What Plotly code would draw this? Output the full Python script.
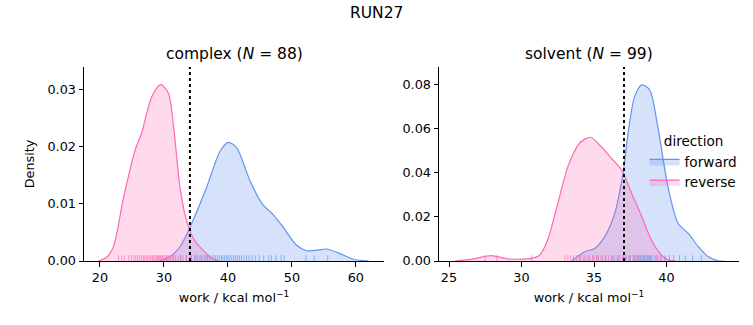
import plotly.graph_objects as go

# ---------------- data ----------------
complex_rev_x = [19.7, 21.0, 22.1, 23.6, 24.5, 25.5, 26.5, 28.1, 29.5, 30.7, 31.5, 32.5, 33.5, 34.6, 36.1, 37.7, 38.6]
complex_rev_y = [0, 0.0006, 0.0025, 0.0107, 0.0151, 0.0195, 0.0224, 0.0288, 0.0309, 0.0294, 0.0236, 0.0130, 0.0072, 0.0040, 0.0019, 0.0003, 0]
complex_fwd_x = [29.4, 31.0, 32.5, 34.1, 36.7, 38.75, 40.05, 41.4, 43.4, 45.3, 47.1, 48.6, 50.7, 52.3, 54.0, 55.4, 57.5, 59.6, 62.0]
complex_fwd_y = [0, 0.0008, 0.0025, 0.006, 0.013, 0.0192, 0.0208, 0.0198, 0.0142, 0.0101, 0.0081, 0.006, 0.0028, 0.0018, 0.0019, 0.0021, 0.0013, 0.0003, 0]

solvent_rev_x = [25.4, 26.5, 27.9, 29.1, 30.7, 31.26, 31.8, 32.5, 33.2, 34.0, 34.75, 35.5, 36.2, 36.9, 37.6, 38.3, 38.96, 39.65, 40.1, 40.6]
solvent_rev_y = [0, 0.0007, 0.0024, 0.0009, 0.0012, 0.0027, 0.0095, 0.026, 0.0427, 0.0533, 0.056, 0.0517, 0.0465, 0.0412, 0.0306, 0.020, 0.0095, 0.0027, 0.0005, 0]
solvent_fwd_x = [33.46, 34.35, 35.05, 35.74, 36.43, 37.0, 37.35, 37.8, 38.3, 38.84, 39.4, 40.1, 40.8, 41.5, 42.2, 42.86, 43.55, 44.0]
solvent_fwd_y = [0, 0.0042, 0.0057, 0.011, 0.0216, 0.0397, 0.0578, 0.0744, 0.0797, 0.0774, 0.0608, 0.0336, 0.0171, 0.0125, 0.0065, 0.002, 0.0001, 0]

complex_rev_rug = [22.9, 23.4, 23.8, 24.5, 24.9, 25.3, 25.6, 25.9, 26.2, 26.5, 26.8, 27.0, 27.3, 27.5, 27.8,
                   28.0, 28.2, 28.4, 28.6, 28.8, 29.0, 29.1, 29.3, 29.5, 29.6, 29.8, 30.0, 30.2, 30.4, 30.6,
                   30.8, 31.0, 31.3, 31.5, 31.8, 32.2, 32.6, 33.0, 33.5, 34.2, 35.0, 35.8, 36.6]
complex_fwd_rug = [32.6, 33.5, 34.3, 34.8, 35.2, 35.6, 36.0, 36.4, 36.8, 37.1, 37.5, 37.8, 38.1, 38.4, 38.7,
                   39.0, 39.2, 39.5, 39.8, 40.0, 40.3, 40.6, 40.9, 41.2, 41.5, 41.8, 42.1, 42.5, 42.9, 43.3,
                   43.8, 44.3, 44.9, 45.6, 46.4, 46.8, 47.5, 48.3, 48.8, 52.2, 53.5, 55.6]
solvent_rev_rug = [27.5, 28.3, 30.7, 33.0, 33.2, 33.4, 33.6, 33.8, 34.0, 34.1, 34.3, 34.4, 34.6, 34.7, 34.9,
                   35.0, 35.2, 35.3, 35.5, 35.6, 35.8, 36.0, 36.2, 36.4, 36.6, 36.8, 37.0, 37.2, 37.5, 37.8,
                   38.1, 38.4, 38.8, 39.3, 39.6]
solvent_fwd_rug = [35.2, 35.8, 36.3, 36.7, 37.0, 37.2, 37.4, 37.5, 37.7, 37.8, 37.9, 38.0, 38.1, 38.2, 38.3,
                   38.4, 38.5, 38.6, 38.7, 38.8, 38.9, 39.0, 39.2, 39.4, 39.6, 39.9, 40.2, 40.5, 40.9, 41.3,
                   41.8, 42.4]

complex_estimate = 34.06
solvent_estimate = 37.07

suptitle = "RUN27"
titles = ["complex (<i>N</i> = 88)", "solvent (<i>N</i> = 99)"]
xlabel = "work / kcal mol<sup>−1</sup>"

# ---------------- styling ----------------
BLUE = "#6495ED"
PINK = "#FF69B4"
BLUE_FILL = "rgba(100,149,237,0.27)"
PINK_FILL = "rgba(255,105,180,0.25)"
FONT = "DejaVu Sans"
FS = 12.8
FS_L = 13.6
FS_T = 15.5

fig = go.Figure()

def add_kde(x, y, xa, ya, color, fill, name, show):
    fig.add_trace(go.Scatter(x=x, y=y, xaxis=xa, yaxis=ya, mode="lines",
                             line=dict(color=color, width=1.2, shape="spline", smoothing=0.8),
                             fill="tozeroy", fillcolor=fill, name=name,
                             legendgroup=name, showlegend=show))

add_kde(complex_fwd_x, complex_fwd_y, "x", "y", BLUE, BLUE_FILL, "forward", True)
add_kde(complex_rev_x, complex_rev_y, "x", "y", PINK, PINK_FILL, "reverse", True)
add_kde(solvent_fwd_x, solvent_fwd_y, "x2", "y2", BLUE, BLUE_FILL, "forward", False)
add_kde(solvent_rev_x, solvent_rev_y, "x2", "y2", PINK, PINK_FILL, "reverse", False)

shapes = []
def rug(vals, xref, yref, color):
    for v in vals:
        shapes.append(dict(type="line", xref=xref, yref=yref + " domain", x0=v, x1=v, y0=0, y1=0.03,
                           line=dict(color=color, width=1), opacity=0.65, layer="above"))

rug(complex_fwd_rug, "x", "y", BLUE)
rug(complex_rev_rug, "x", "y", PINK)
rug(solvent_fwd_rug, "x2", "y2", BLUE)
rug(solvent_rev_rug, "x2", "y2", PINK)

for v, xref, yref in [(complex_estimate, "x", "y"), (solvent_estimate, "x2", "y2")]:
    shapes.append(dict(type="line", xref=xref, yref=yref + " domain", x0=v, x1=v, y0=0, y1=1,
                       line=dict(color="black", width=2, dash="dot"), layer="above"))

W, H = 753, 325
left_dom = [84 / W, 384 / W]
right_dom = [439 / W, 739 / W]
ydom = [1 - 261 / H, 1 - 67 / H]

axis_common = dict(showline=True, linecolor="black", linewidth=1, ticks="outside", ticklen=4.5,
                   tickwidth=1, tickcolor="black", showgrid=False, zeroline=False, automargin=False,
                   tickfont=dict(family=FONT, size=FS, color="black"))

fig.update_layout(
    width=W, height=H, margin=dict(l=0, r=0, t=0, b=0),
    plot_bgcolor="white", paper_bgcolor="white",
    font=dict(family=FONT, size=FS, color="black"),
    shapes=shapes,
    xaxis=dict(domain=left_dom, range=[17.5, 64.4], tickvals=[20, 30, 40, 50, 60], anchor="y",
               title=dict(text=xlabel, font=dict(size=FS), standoff=9), **axis_common),
    yaxis=dict(domain=ydom, range=[0, 0.034], tickvals=[0, 0.01, 0.02, 0.03], tickformat=".2f", anchor="x",
               title=dict(text="Density", font=dict(size=FS), standoff=9), **axis_common),
    xaxis2=dict(domain=right_dom, range=[24.31, 45.0], tickvals=[25, 30, 35, 40], anchor="y2",
                title=dict(text=xlabel, font=dict(size=FS), standoff=9), **axis_common),
    yaxis2=dict(domain=ydom, range=[0, 0.0878], tickvals=[0, 0.02, 0.04, 0.06, 0.08], tickformat=".2f",
                anchor="x2", **axis_common),
    legend=dict(title=dict(text="direction", font=dict(size=FS_L), side="top center"),
                x=0.856, y=0.605, xanchor="left", yanchor="top", bgcolor="rgba(0,0,0,0)",
                font=dict(size=FS_L), itemwidth=30, tracegroupgap=0),
    annotations=[
        dict(text=suptitle, x=0.5, y=1 - 13 / H, xref="paper", yref="paper", showarrow=False,
             font=dict(size=FS_T), xanchor="center", yanchor="middle"),
        dict(text=titles[0], x=(left_dom[0] + left_dom[1]) / 2, y=1 - 54 / H, xref="paper", yref="paper",
             showarrow=False, font=dict(size=FS_T), xanchor="center", yanchor="middle"),
        dict(text=titles[1], x=(right_dom[0] + right_dom[1]) / 2, y=1 - 54 / H, xref="paper", yref="paper",
             showarrow=False, font=dict(size=FS_T), xanchor="center", yanchor="middle"),
    ],
)

fig.write_html("out.html", config={"displayModeBar": False},
               post_script="document.body.style.margin='0px';document.body.style.overflow='hidden';")
